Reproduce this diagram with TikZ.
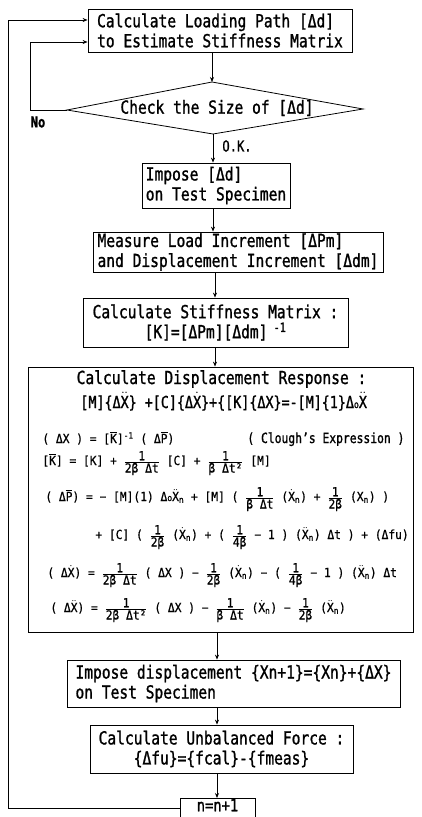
\documentclass[tikz,border=0pt]{standalone}
\usepackage{fontspec}
\usepackage{amsmath}
\setmainfont{DejaVu Sans Mono}[FakeStretch=0.81,FakeBold=1.2]
\newfontfamily\eqf{DejaVu Sans Mono}[FakeStretch=0.9,FakeBold=0.8]
\usetikzlibrary{arrows.meta}
\newcommand\fr[2]{\ensuremath{\genfrac{}{}{0.5pt}{}{\hbox{#1}}{\hbox{#2}}}}
\newcommand\Kb{\ensuremath{\overline{\hbox{K}}}}
\newcommand\Pb{\ensuremath{\overline{\hbox{P}}}}
\newcommand\Xd{\ensuremath{\dot{\hbox{X}}}}
\newcommand\Xdd{\ensuremath{\ddot{\hbox{X}}}}
\newcommand\sn{\textsubscript{n}}
\begin{document}
\begin{tikzpicture}[x=1pt,y=-1pt,line width=0.8pt,
  bx/.style={draw,inner sep=0pt,font=\fontsize{18}{20}\selectfont},
  arr/.style={-{Stealth[length=5pt,width=4pt]}},
  hd/.style={inner sep=0pt,anchor=base west},
  eq/.style={inner sep=0pt,anchor=base west,font=\eqf\fontsize{12.5}{14}\selectfont}]
\useasboundingbox (0,0) rectangle (422,817);
% boxes
\node[bx,minimum width=264pt,minimum height=43pt,align=left] (b1) at (220,30.5)
  {Calculate Loading Path [Δd]\\to Estimate Stiffness Matrix};
\coordinate (dl) at (67,110);
\coordinate (dt) at (212,82);
\coordinate (dr) at (363,109);
\coordinate (db) at (213,134);
\draw (dl) -- (dt) -- (dr) -- (db) -- cycle;
\node[inner sep=0pt,font=\fontsize{18}{20}\selectfont] (dtx) at (217,108) {Check the Size of [Δd]};
\node[bx,minimum width=148pt,minimum height=45pt,align=left] (b2) at (216,185.5)
  {Impose [Δd]\\on Test Specimen};
\node[bx,minimum width=290pt,minimum height=40pt,align=left] (b3) at (238,252)
  {Measure Load Increment [ΔPm]\\and Displacement Increment [Δdm]};
\node[bx,minimum width=265pt,minimum height=49pt,align=center] (b4) at (215.5,322.5)
  {Calculate Stiffness Matrix :\\{}[K]=[ΔPm][Δdm]\textsuperscript{ -1}};
\node[bx,minimum width=385pt,minimum height=265pt] (b5) at (220.5,499.5) {};
\node[bx,minimum width=333pt,minimum height=47pt,align=left] (b6) at (233.5,683.5)
  {Impose displacement \{Xn+1\}=\{Xn\}+\{ΔX\}\\on Test Specimen};
\node[bx,minimum width=263pt,minimum height=48pt,align=center] (b7) at (221.5,749)
  {Calculate Unbalanced Force :\\\{Δfu\}=\{fcal\}-\{fmeas\}};
\node[bx,anchor=north,inner xsep=4pt,inner ysep=0.5pt,text depth=14pt,minimum width=75pt,font=\fontsize{17}{17}\selectfont] (b8) at (217.5,798) {n=n+1};
% labels
\node[inner sep=0pt,font=\fontsize{15}{15}\selectfont\bfseries] (no) at (38,122) {No};
\node[inner sep=0pt,anchor=west,font=\fontsize{15}{15}\selectfont] (ok) at (222,146) {O.K.};
% equations
\node[hd,anchor=base,font=\fontsize{18}{20}\selectfont] (e1) at (221.5,384) {Calculate Displacement Response :};
\node[hd,font=\fontsize{16.5}{18}\selectfont] (e2) at (80,408)
  {[M]\{Δ\Xdd\} +[C]\{Δ\Xd\}+\{[K]\{ΔX\}=-[M]\{1\}Δ{\fontsize{10}{10}\selectfont o}\Xdd};
\node[eq] (e3) at (42,443) {( ΔX ) = [\Kb]\textsuperscript{-1} ( Δ\Pb )};
\node[hd,font=\fontsize{14}{16}\selectfont] (ce) at (247,443) {( Clough's Expression )};
\node[eq] (e4) at (42,465) {[\Kb] = [K] + \fr{1}{2β Δt} [C] + \fr{1}{β Δt²} [M]};
\node[eq] (e5) at (45,501) {( Δ\Pb ) = − [M](1) Δ{\fontsize{9}{9}\selectfont o}\Xdd\sn{} + [M] ( \fr{1}{β Δt} (\Xd\sn) + \fr{1}{2β} (X\sn) )};
\node[eq] (e6) at (95,539) {+ [C] ( \fr{1}{2β} (\Xd\sn) + ( \fr{1}{4β} − 1 ) (\Xdd\sn) Δt ) + (Δfu)};
\node[eq] (e7) at (47,577) {( Δ\Xd ) = \fr{1}{2β Δt} ( ΔX ) − \fr{1}{2β} (\Xd\sn) − ( \fr{1}{4β} − 1 ) (\Xdd\sn) Δt};
\node[eq] (e8) at (50,612) {( Δ\Xdd ) = \fr{1}{2β Δt²} ( ΔX ) − \fr{1}{β Δt} (\Xd\sn) − \fr{1}{2β} (\Xdd\sn)};
% connectors
\coordinate (ax) at (215,0);
\draw[arr] (b1.south -| dt) -- (dt);
\draw[arr] (db) -- (db |- b2.north);
\draw[arr] (b2.south -| db) -- (b3.north -| db);
\draw[arr] (b3.south -| ax) -- (b4.north -| ax);
\draw[arr] (b4.south -| ax) -- (b5.north -| ax);
\coordinate (ay) at (217,0);
\draw[arr] (b5.south -| ay) -- (b6.north -| ay);
\draw[arr] (b6.south -| ay) -- (b7.north -| ay);
\draw[arr] (b7.south -| ay) -- (b8.north -| ay);
\coordinate (n1) at (30,42);
\draw[arr] (dl) -- (dl -| n1) -- (n1) -- (b1.west |- n1);
\coordinate (o1) at (8,20);
\coordinate (o2) at (8,808);
\draw[arr] (b8.west |- o2) -- (o2) -- (o1) -- (b1.west |- o1);
\end{tikzpicture}
\end{document}
